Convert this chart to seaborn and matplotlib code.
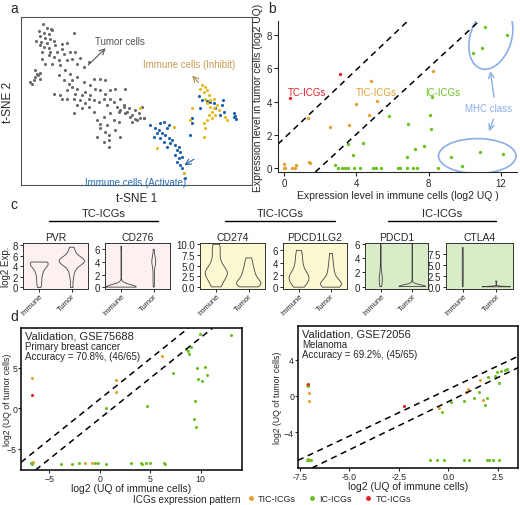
import numpy as np
import pandas as pd
import matplotlib
matplotlib.use("Agg")
import matplotlib.pyplot as plt
from matplotlib.patches import Ellipse
from matplotlib.lines import Line2D
import seaborn as sns

sns.set_style("ticks")
plt.rcParams['font.family'] = ['Liberation Sans', 'DejaVu Sans']

# colours
c_grey, c_blue, c_yel = "#6a6a6a", "#1d5fa8", "#e8b81e"
c_tc, c_tic, c_ic = "#e3202a", "#e3a035", "#6cc024"
c_mhc = "#8aaee6"

# ---- a: t-SNE (arbitrary units, y grows downward) ----
tumor_pts = [(127,77),(140,87),(152,90),(115,97),(130,103),(145,105),(155,95),(120,112),(135,118),(150,120),
             (107,127),(123,130),(140,132),(160,128),(118,140),(130,145),(145,148),(165,140),(185,137),(200,133),
             (222,103),(210,160),(225,160),(240,178),(185,150),(190,165),(170,160),(150,160),(125,160),(145,170),
             (160,175),(175,185),(200,185),(215,182),(230,195),(250,205),(265,190),(180,200),(195,215),(155,195),
             (125,180),(135,195),(90,250),(100,245),(105,235),(112,230),(118,240),(95,255),(110,225),(103,215),
             (120,222),(175,230),(210,225),(230,235),(190,245),(205,255),(215,265),(200,275),(230,270),(245,290),
             (255,280),(265,300),(270,260),(280,240),(300,242),(315,245),(285,270),(300,275),(315,285),(330,275),
             (345,272),(240,305),(220,300),(185,300),(160,285),(230,320),(255,315),(280,305),(295,310),(310,300),
             (320,320),(330,300),(340,310),(350,325),(360,300),(375,270),(370,320),(355,340),(330,345),(310,355),
             (290,365),(300,378),(320,380),(340,365),(355,370),(375,345),(385,330),(395,350),(405,335),(415,345),
             (425,325),(430,360),(345,395),(315,400),(300,390),(325,410),(220,345),(280,340),(265,325),(245,330),
             (270,290),(250,250),(225,285),(215,245),(180,290),(200,300),(290,415),(325,425),(325,445),(310,430),
             (360,415),(360,335),(370,325),(380,340),(390,355),(405,363),(395,370),(410,365),(420,360),(430,358)]
activate_pts = [(450,380),(465,390),(480,375),(490,370),(475,395),(485,405),(500,390),(495,410),(505,420),(480,420),
                (490,430),(510,435),(515,425),(525,440),(530,455),(535,445),(540,460),(525,470),(535,480),(545,475),
                (530,490),(540,500),(545,510),(550,525),(553,540),(505,380),(470,405),(500,445),(460,415),
                (595,292),(605,305),(620,308),(630,310),(640,315),(645,330),(667,305),(665,320),(670,340),(660,350),
                (700,345),(705,352),(708,363),(701,355),(570,410),(575,360),(575,375),(598,330)]
inhibit_pts = [(605,260),(615,265),(620,275),(610,280),(625,290),(615,300),(630,305),(620,315),(630,325),(640,330),
               (650,320),(655,335),(635,340),(645,350),(625,350),(620,365),(610,375),(615,390),(610,415),(635,360),
               (675,355),(680,365),(575,330),(570,365),(520,385),(418,330),(470,450),(550,525),(600,270),(640,300)]

# ---- b: expression in immune (x) vs tumor (y) ----
b_tic = [(4.78,5.25),(3.98,3.86),(5.15,4.04),(1.31,3.01),(4.67,3.21),(3.57,2.57),(2.52,2.44),(1.39,0.38),
         (1.41,0.30),(0.0,0.0),(0.0,0.25),(0.4,0.0),(0.6,0.0),(0.65,0.18),(0.05,0.02),(8.22,5.84)]
b_ic = [(8.19,4.28),(8.07,3.19),(5.81,3.13),(6.83,2.67),(8.11,2.34),(4.35,1.49),(3.54,1.45),(3.8,0.81),
        (7.74,1.35),(7.24,1.15),(6.78,0.69),(2.81,0.2),(2.96,0),(3.2,0),(3.39,0),(3.52,0),(3.85,0),(4.22,0),
        (4.91,0),(5.11,0),(5.37,0),(6.3,0),(6.41,0),(6.81,0),(7.13,0),(7.37,0),(8.5,0),
        (9.22,0.69),(9.83,0.14),(10.87,0.95),(12.1,0.83),(11.13,8.46),(12.35,8.02),(10.94,7.21),(10.48,6.91)]
b_tc = [(0.33,4.22),(3.11,5.64)]

# ---- c: violins ----
genes = ["PVR", "CD276", "CD274", "PDCD1LG2", "PDCD1", "CTLA4"]
immune_vals = {
    "PVR": [0,0.6,1.2,1.8,2.4,2.8,3.2,3.5,3.8,4.0,4.2,4.4,4.5,4.6,4.7,4.8,4.8,4.8],
    "CD276": [0]*60 + [0.05,0.1,0.2,0.3,0.5,1,2,3,4,5,6,6.5],
    "CD274": [0,0.3,0.8,1.5,2,2.5,2.8,3,3.2,3.4,3.6,4,4.5,5,5.5,6.5,7.5,8.5,9.5,10],
    "PDCD1LG2": [0,0.3,0.6,0.9,1.2,1.4,1.6,1.8,2,2.3,2.7,3.2,3.8,4.5,5.2,6],
    "PDCD1": [0,0.5,0.8,0.9,1,1,1.1,1.2,1.5,2,3,4,5,6],
    "CTLA4": [0,1,2,3,4,5,6,7,8,9],
}
tumor_vals = {
    "PVR": [0,1.5,2.5,3.2,3.7,4.0,4.3,4.5,4.7,4.8,4.9,5.0,5.0,5.1,5.2,5.3,5.5,5.7,6.0,6.4,7.0,7.6],
    "CD276": [0,0.5,1,1.5,2,2.5,3,3.5,3.8,3.9,4,4,4.1,4.2,4.3,4.5,5,5.5,6],
    "CD274": [0,0.1,0.2,0.4,0.6,0.8,1,1.2,1.5,1.8,2.2,2.6,3,3.5,4,4.6,5.2,6,6.8],
    "PDCD1LG2": [0,0.1,0.2,0.3,0.4,0.5,0.6,0.8,1,1.3,1.7,2.2,2.8,3.5,4.3,5.5],
    "PDCD1": [0]*60 + [0.05,0.1,0.2,0.5,1,3,6],
    "CTLA4": [0]*20 + [0.05,0.1,1.3],
}
# widest part of each violin (fraction of a category slot)
immune_w = {"PVR": 0.55, "CD276": 0.92, "CD274": 0.68, "PDCD1LG2": 0.62, "PDCD1": 0.1, "CTLA4": 0.03}
tumor_w = {"PVR": 0.78, "CD276": 0.12, "CD274": 0.75, "PDCD1LG2": 0.65, "PDCD1": 0.85, "CTLA4": 0.85}
gene_ylim = {"PVR": (-0.3, 8.4), "CD276": (-0.3, 7.0), "CD274": (-0.5, 10.3),
             "PDCD1LG2": (-0.3, 7.2), "PDCD1": (-0.35, 6.2), "CTLA4": (-0.5, 10.0)}
gene_yticks = {"PVR": [0,2,4,6,8], "CD276": [0,2,4,6], "CD274": [0,2.5,5,7.5,10],
               "PDCD1LG2": [0,2,4,6], "PDCD1": [0,2,4,6], "CTLA4": [0,2.5,5,7.5]}
gene_bg = {"PVR": "#fcf0f0", "CD276": "#fcf0f0", "CD274": "#fcf9d2",
           "PDCD1LG2": "#fcf9d2", "PDCD1": "#d9ecc8", "CTLA4": "#d9ecc8"}

# ---- d: validation sets ----
dl_tic = [(-6.67,3.7),(1.57,3.46),(1.57,2.0),(6.21,6.46),(-1.5,-6.75),(-0.72,-6.8),(-6.75,-6.8),(-6.6,-6.7)]
dl_ic = [(9.93,9.1),(13.0,9.0),(8.53,7.28),(8.7,7.07),(9.09,7.49),(8.8,6.67),(7.29,4.4),(9.67,4.9),(10.4,5.06),
         (9.74,3.58),(10.1,3.37),(10.65,4.07),(9.44,0.9),(4.64,0.21),(0.62,-0.04),(9.35,-1.36),(9.5,-2.3),
         (-6.83,-6.8),(-6.7,-6.9),(-3.79,-6.85),(-2.75,-6.85),(-2.09,-6.8),(-0.46,-6.8),(-0.13,-6.75),
         (0.62,-6.9),(3.14,-6.8),(4.05,-6.8),(4.22,-6.85),(4.61,-6.8),(5.0,-6.8),(6.4,-6.75),(6.5,-6.9)]
dl_tc = [(-6.73,1.64)]
dr_tic = [(-7.12,1.2),(-7.02,0.3),(-7.03,-0.62),(-0.47,-1.35),(0.89,0.44),(1.01,0.74),(1.6,1.77),
          (1.77,-0.44),(-7.0,-7.1),(-7.1,-7.0)]
dr_ic = [(-7.1,1.1),(-0.32,-1.76),(0.12,-0.66),(0.79,-0.55),(1.3,-0.29),(1.58,0.44),(1.87,-1.02),(1.97,-0.29),
         (1.99,2.09),(2.37,2.2),(2.47,2.58),(2.55,1.37),(2.65,2.75),(2.86,2.86),(2.98,3.0),(-7.15,-7.05),
         (-7.05,-7.1),(-6.95,-7.05),(-0.92,-7.08),(-0.59,-7.1),(-0.22,-7.08),(0.79,-7.05),(1.06,-7.05),
         (1.94,-7.08),(2.07,-7.05),(2.27,-7.08),(2.58,-7.08)]
dr_tc = [(-7.07,1.29),(-2.24,-1.1)]


W, H = 520, 506
fig = plt.figure(figsize=(W/100, H/100), dpi=100)

def box(l, t, r, b):
    return fig.add_axes([l/W, 1-b/H, (r-l)/W, (b-t)/H])

def dots(ax, pts, color, s=6):
    arr = np.array(pts, dtype=float)
    sns.scatterplot(x=arr[:, 0], y=arr[:, 1], color=color, s=s, linewidth=0, ax=ax, legend=False)

# panel a
ax = box(21, 18, 252, 186)
dots(ax, tumor_pts, c_grey, 5)
dots(ax, activate_pts, c_blue, 5)
dots(ax, inhibit_pts, c_yel, 5)
ax.set_xlim(62, 755)
ax.set_ylim(560, 55)
ax.set_xticks([]); ax.set_yticks([])
for sp in ax.spines.values():
    sp.set_color("#555555"); sp.set_linewidth(0.8)
ax.set_xlabel("t-SNE 1", fontsize=8.5, labelpad=5)
ax.set_ylabel("t-SNE 2", fontsize=8.5, labelpad=5)
ax.annotate("", xy=(322, 143), xytext=(258, 205),
            arrowprops=dict(arrowstyle="->", color="#555555", lw=0.8))
ax.text(360, 128, "Tumor cells", fontsize=7, color="#555555", ha="center", va="center")
ax.annotate("", xy=(570, 225), xytext=(600, 258),
            arrowprops=dict(arrowstyle="->", color="#b08a50", lw=0.8))
ax.text(567, 195, "Immune cells (Inhibit)", fontsize=7, color="#c99a55", ha="center", va="center")
ax.annotate("", xy=(545, 505), xytext=(588, 478),
            arrowprops=dict(arrowstyle="->", color=c_blue, lw=0.8))
ax.text(405, 550, "Immune cells (Activate)", fontsize=7, color="#2a6db5", ha="center", va="center")
fig.text(10/W, 1-9/H, "a", fontsize=10, va="center")

# panel b
ax = box(278, 22, 517, 173)
ax.axline((0, 1.8), slope=1.03, color="k", ls=(0, (4, 3)), lw=1.1)
ax.axline((0, -1.96), slope=1.0, color="k", ls=(0, (4, 3)), lw=1.1)
dots(ax, b_tic, c_tic)
dots(ax, b_ic, c_ic)
dots(ax, b_tc, c_tc)
ax.add_patch(Ellipse((11.45, 7.85), 2.3, 3.9, angle=-15, fill=False, ec=c_mhc, lw=1.2))
ax.add_patch(Ellipse((10.7, 0.72), 4.3, 2.1, fill=False, ec=c_mhc, lw=1.2))
ax.text(11.3, 3.6, "MHC class", color=c_mhc, fontsize=7, ha="center", va="center")
ax.annotate("", xy=(11.4, 6.0), xytext=(11.65, 4.1),
            arrowprops=dict(arrowstyle="->", color=c_mhc, lw=1.0))
ax.annotate("", xy=(11.3, 2.05), xytext=(11.65, 3.1),
            arrowprops=dict(arrowstyle="->", color=c_mhc, lw=1.0))
ax.text(1.26, 4.6, "TC-ICGs", color=c_tc, fontsize=7, ha="center", va="center")
ax.text(5.1, 4.6, "TIC-ICGs", color=c_tic, fontsize=7, ha="center", va="center")
ax.text(8.8, 4.6, "IC-ICGs", color=c_ic, fontsize=7, ha="center", va="center")
ax.set_xlim(-0.35, 12.9); ax.set_ylim(-0.24, 8.85)
ax.set_xticks([0, 4, 8, 12]); ax.set_yticks([0, 2, 4, 6, 8])
ax.tick_params(labelsize=7, length=3, width=0.8, pad=1.5)
sns.despine(ax=ax)
ax.set_xlabel("Expression level in immune cells (log2 UQ )", fontsize=7.5, labelpad=1)
ax.set_ylabel("Expression level in tumor cells (log2 UQ)", fontsize=7.5, labelpad=2)
fig.text(268/W, 1-9/H, "b", fontsize=10, va="center")

# panel c
fig.text(10/W, 1-205/H, "c", fontsize=10, va="center")
c_boxes = [(23, 88), (105, 170), (200, 265), (283, 347), (365, 428), (446, 513)]
for g, (l, r) in zip(genes, c_boxes):
    ax = box(l, 244, r, 290)
    ax.set_facecolor(gene_bg[g])
    for grp, vals, w in [("Immune", immune_vals[g], immune_w[g]), ("Tumor", tumor_vals[g], tumor_w[g])]:
        sns.violinplot(x=[grp]*len(vals), y=vals, order=["Immune", "Tumor"], cut=0, inner=None,
                       fill=False, color="#444444", linewidth=0.6, bw_adjust=0.7,
                       density_norm="width", width=w, ax=ax)
    ax.set_ylim(*gene_ylim[g])
    ax.set_yticks(gene_yticks[g])
    if g in ("CD274", "CTLA4"):
        ax.set_yticklabels(["%.1f" % v for v in gene_yticks[g]])
    ax.tick_params(axis="y", labelsize=7, length=2.5, width=0.7, pad=1)
    ax.tick_params(axis="x", labelsize=5.5, length=2, width=0.7, pad=0.5)
    plt.setp(ax.get_xticklabels(), rotation=45, ha="right", rotation_mode="anchor")
    ax.set_xlabel(""); ax.set_ylabel("")
    for sp in ax.spines.values():
        sp.set_color("#333333"); sp.set_linewidth(0.7)
    ax.set_title(g, fontsize=7.5, pad=2)
    if g == "PVR":
        ax.set_ylabel("log2 Exp.", fontsize=7, labelpad=1)

group_heads = [("TC-ICGs", 49, 158), ("TIC-ICGs", 225, 335), ("IC-ICGs", 388, 496)]
for name, l, r in group_heads:
    fig.text((l+r)/2/W, 1-214/H, name, fontsize=8, ha="center", va="center")
    fig.add_artist(Line2D([l/W, r/W], [1-222/H, 1-222/H], color="k", lw=1.0))

# panel d
fig.text(10/W, 1-317/H, "d", fontsize=10, va="center")
d_specs = [
    (box(21, 329, 242, 471), dl_tic, dl_ic, dl_tc, (-7.8, 14.1), (-7.65, 9.9),
     [(1.1, 1.0), (-1.3, 1.0)], [-5, 0, 5, 10], [-5, 0, 5], None, -0.041,
     ["Validation, GSE75688", "Primary breast cancer", "Accuracy = 70.8%, (46/65)"]),
    (box(298, 327, 518, 469), dr_tic, dr_ic, dr_tc, (-7.6, 3.53), (-7.95, 7.7),
     [(0.72, 1.03), (-0.64, 1.06)], [-7.5, -5, -2.5, 0, 2.5], [-4, 0, 4],
     ["-7.5", "-5.0", "-2.5", "0.0", "2.5"], -0.075,
     ["Validation, GSE72056", "Melanoma", "Accuracy = 69.2%, (45/65)"]),
]
for ax, tic, ic, tc, xl, yl, lines, xt, yt, xtl, ylab_x, notes in d_specs:
    for b0, m in lines:
        ax.axline((0, b0), slope=m, color="k", ls=(0, (4, 3)), lw=1.1)
    dots(ax, tic, c_tic, 5)
    dots(ax, ic, c_ic, 5)
    dots(ax, tc, c_tc, 5)
    ax.set_xlim(*xl); ax.set_ylim(*yl)
    ax.set_xticks(xt); ax.set_yticks(yt)
    if xtl:
        ax.set_xticklabels(xtl)
    ax.tick_params(labelsize=6.3, length=2, width=0.8, pad=0.8)
    for sp in ax.spines.values():
        sp.set_color("k"); sp.set_linewidth(1.1)
    ax.set_xlabel("log2 (UQ of immune cells)", fontsize=7.5, labelpad=0)
    ax.set_ylabel("log2 (UQ of tumor cells)", fontsize=6.3)
    ax.yaxis.set_label_coords(ylab_x, 0.5)
    ax.text(0.02, 0.95, notes[0], transform=ax.transAxes, fontsize=8, va="center")
    ax.text(0.02, 0.875, notes[1], transform=ax.transAxes, fontsize=7, va="center")
    ax.text(0.02, 0.80, notes[2], transform=ax.transAxes, fontsize=7, va="center")

# legend
fig.text(133/W, 1-500/H, "ICGs expression pattern", fontsize=7.2, va="center")
handles = [Line2D([], [], marker="o", ls="", color=c, markersize=2.5) for c in (c_tic, c_ic, c_tc)]
fig.legend(handles, ["TIC-ICGs", "IC-ICGs", "TC-ICGs"], loc="center left",
           bbox_to_anchor=(238/W, 1-500/H), ncol=3, frameon=False, fontsize=6.5,
           handletextpad=0.3, columnspacing=1.3, handlelength=1.0)

fig.savefig("out.png", dpi=100)
